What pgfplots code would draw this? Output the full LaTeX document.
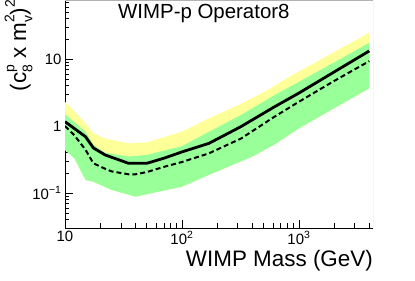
\documentclass[border=0pt]{standalone}
\usepackage{fontspec}
\setmainfont{Liberation Sans}
\usepackage{pgfplots}
\pgfplotsset{compat=1.18}
\definecolor{band2}{RGB}{255,255,153}
\definecolor{band1}{RGB}{153,255,153}
\newcommand\supsub[2]{\rlap{\raisebox{0.52em}{\fontsize{14}{14}\selectfont #1}}\raisebox{-0.28em}{\fontsize{14}{14}\selectfont #2}}
\begin{document}
\begin{tikzpicture}
\begin{loglogaxis}[
  scale only axis, width=308bp, height=228bp,
  xmin=10, xmax=4300, ymin=0.0300, ymax=76,
  axis lines*=left,
  axis line style={black, line width=0.6bp},
  xtick={10,100,1000}, xticklabels={10,10\textsuperscript{2},10\textsuperscript{3}},
  ytick={0.1,1,10}, yticklabels={10\textsuperscript{−1},1,10},
  minor xtick={20,30,40,50,60,70,80,90,200,300,400,500,600,700,800,900,2000,3000,4000},
  minor ytick={0.03,0.04,0.05,0.06,0.07,0.08,0.09,0.2,0.3,0.4,0.5,0.6,0.7,0.8,0.9,2,3,4,5,6,7,8,9,20,30,40,50,60,70},
  major tick length=8bp, minor tick length=4.5bp,
  tick style={black, line width=0.6bp},
  ticklabel style={font=\fontsize{15}{18}\selectfont},
  xlabel={WIMP Mass (GeV)},
  xlabel style={at={(axis description cs:1,-0.171)}, anchor=base east, font=\fontsize{22.5}{26}\selectfont, inner sep=0pt},
  ylabel={(c\supsub{p}{8} x m\supsub{2}{v})\raisebox{0.5em}{\fontsize{14}{14}\selectfont 2}},
  ylabel style={at={(axis description cs:-0.1266,1)}, anchor=base east, font=\fontsize{22.5}{26}\selectfont, inner sep=0pt},
]
\addplot[fill=band2, draw=none] coordinates {
(10,2.3)(15,1.1)(17.5,0.78)(22,0.65)(35,0.55)(50,0.57)(100,0.82)(170,1.3)(320,2.13)(550,3.5)(840,5.5)(2000,12.7)(4000,24.7)
(4000,3.65)(2000,1.84)(1000,0.92)(620,0.53)(400,0.35)(170,0.186)(100,0.124)(40,0.088)(25,0.111)(17.5,0.147)(15,0.156)(12,0.33)(10,0.44)};
\addplot[fill=band1, draw=none] coordinates {
(10,1.5)(15,0.82)(17.5,0.52)(22,0.40)(35,0.35)(50,0.37)(100,0.50)(170,0.82)(320,1.46)(620,2.9)(840,3.86)(2000,8.9)(4000,17.5)
(4000,3.65)(2000,1.84)(1000,0.92)(620,0.53)(400,0.35)(170,0.186)(100,0.124)(40,0.088)(25,0.111)(17.5,0.147)(15,0.156)(12,0.33)(10,0.44)};
\addplot[black, line width=2bp, dash pattern=on 5bp off 3bp] coordinates {
(10,1.0)(12,0.73)(15,0.44)(17.5,0.277)(22,0.23)(25,0.21)(35,0.19)(40,0.19)(50,0.205)(70,0.245)(100,0.29)(170,0.39)(320,0.65)(620,1.38)(1000,2.3)(2000,4.7)(4000,9.3)};
\addplot[black, line width=2.8bp] coordinates {
(10,1.16)(15,0.69)(17.5,0.47)(22,0.37)(35,0.277)(50,0.277)(70,0.33)(100,0.41)(170,0.55)(320,0.98)(620,1.94)(1000,3.1)(2000,6.4)(4000,13.2)};
\node[anchor=base west, font=\fontsize{20.5}{24}\selectfont, inner sep=0pt] at (axis description cs:0.172,0.9167) {WIMP-p Operator8};
\draw[gray!60, line width=0.6bp] (axis description cs:0,1) -- (axis description cs:1,1) -- (axis description cs:1,0);
\coordinate (ll) at (axis description cs:0,0);
\coordinate (ur) at (axis description cs:1,1);
\end{loglogaxis}
\pgfresetboundingbox
\path ([shift={(-65bp,-53bp)}]ll) rectangle ([shift={(42bp,0bp)}]ur);
\end{tikzpicture}
\end{document}
